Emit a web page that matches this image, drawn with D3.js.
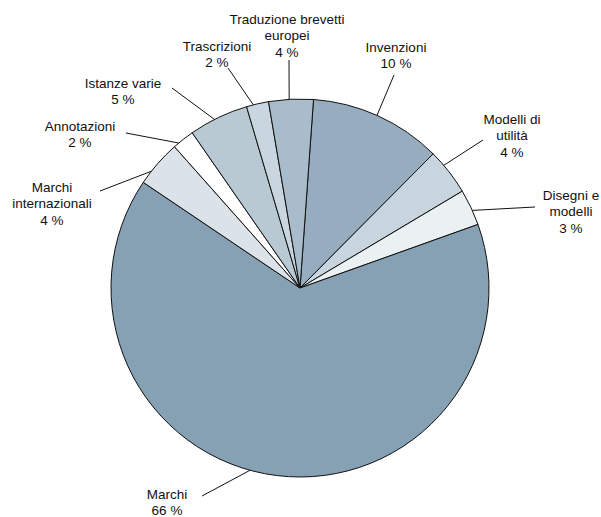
<!DOCTYPE html>
<html>
<head>
<meta charset="utf-8">
<script src="https://cdn.jsdelivr.net/npm/d3@7"></script>
<style>
html,body{margin:0;padding:0;background:#fff;}
svg{display:block;}
text{font-family:"Liberation Sans",Arial,sans-serif;font-size:13.5px;fill:#111;}
</style>
</head>
<body>
<svg id="chart" width="601" height="517"></svg>
<script>
// ---- data (clockwise, starting near 12 o'clock) ----
const categories = ["Invenzioni", "Modelli di utilità", "Disegni e modelli", "Marchi",
  "Marchi internazionali", "Annotazioni", "Istanze varie", "Trascrizioni", "Traduzione brevetti europei"];
const shares = [11.3, 4.0, 3.1, 64.9, 4.0, 1.9, 5.1, 1.9, 3.8];
const shareLabels = ["10 %", "4 %", "3 %", "66 %", "4 %", "2 %", "5 %", "2 %", "4 %"];
const labelLines = [
  ["Invenzioni"], ["Modelli di", "utilità"], ["Disegni e", "modelli"], ["Marchi"],
  ["Marchi", "internazionali"], ["Annotazioni"], ["Istanze varie"], ["Trascrizioni"],
  ["Traduzione brevetti", "europei"]
];
const colors = ["#97acbf", "#c8d5de", "#ebf0f3", "#86a0b4", "#dbe2e8", "#ffffff", "#b9c9d4", "#c9d6df", "#a9bccb"];

// ---- layout ----
const cx = 300, cy = 288, R = 189;
const startDeg = 4.1;
// label text anchor (center x, first baseline y), leader outer end, leader position within slice (0..1)
const labelPos = [
  {x: 396, y: 51.5, lx: 394, ly: 75, t: 0.49},
  {x: 512, y: 124, lx: 483, ly: 140, t: 0.33},
  {x: 571, y: 200, lx: 535, ly: 207, t: 0.59},
  {x: 167, y: 499, lx: 202, ly: 496, t: 0.535},
  {x: 52, y: 192, lx: 100, ly: 191, t: 0.29},
  {x: 80, y: 130.5, lx: 126, ly: 133, t: 0.25},
  {x: 123, y: 87.5, lx: 172, ly: 88, t: 0.43},
  {x: 217, y: 50.5, lx: 228, ly: 68, t: 0.31},
  {x: 287, y: 24, lx: 289, ly: 60, t: 0.46}
];
const lineH = 16.3;

const data = categories.map((c, i) => ({cat: c, value: shares[i], i}));
const svg = d3.select("#chart");
const g = svg.append("g").attr("transform", `translate(${cx},${cy})`);

const pie = d3.pie().sort(null).value(d => d.value)
  .startAngle(startDeg * Math.PI / 180)
  .endAngle(startDeg * Math.PI / 180 + 2 * Math.PI);
const arc = d3.arc().innerRadius(0).outerRadius(R);
const arcs = pie(data);

g.selectAll("path.slice").data(arcs).enter().append("path")
  .attr("class", "slice")
  .attr("d", arc)
  .attr("fill", d => colors[d.data.i])
  .attr("stroke", "#111")
  .attr("stroke-width", 1)
  .attr("stroke-linejoin", "round");

// leader lines
const lines = svg.append("g");
arcs.forEach(a => {
  const p = labelPos[a.data.i];
  const ang = a.startAngle + p.t * (a.endAngle - a.startAngle);
  const x = cx + R * Math.sin(ang), y = cy - R * Math.cos(ang);
  lines.append("line")
    .attr("x1", p.lx).attr("y1", p.ly).attr("x2", x).attr("y2", y)
    .attr("stroke", "#111").attr("stroke-width", 1);
});

// labels
const lab = svg.append("g");
data.forEach(d => {
  const p = labelPos[d.i];
  const rows = labelLines[d.i].concat([shareLabels[d.i]]);
  const t = lab.append("text").attr("text-anchor", "middle");
  rows.forEach((r, k) => {
    t.append("tspan").attr("x", p.x).attr("y", p.y + k * lineH).text(r);
  });
});
</script>
</body>
</html>
